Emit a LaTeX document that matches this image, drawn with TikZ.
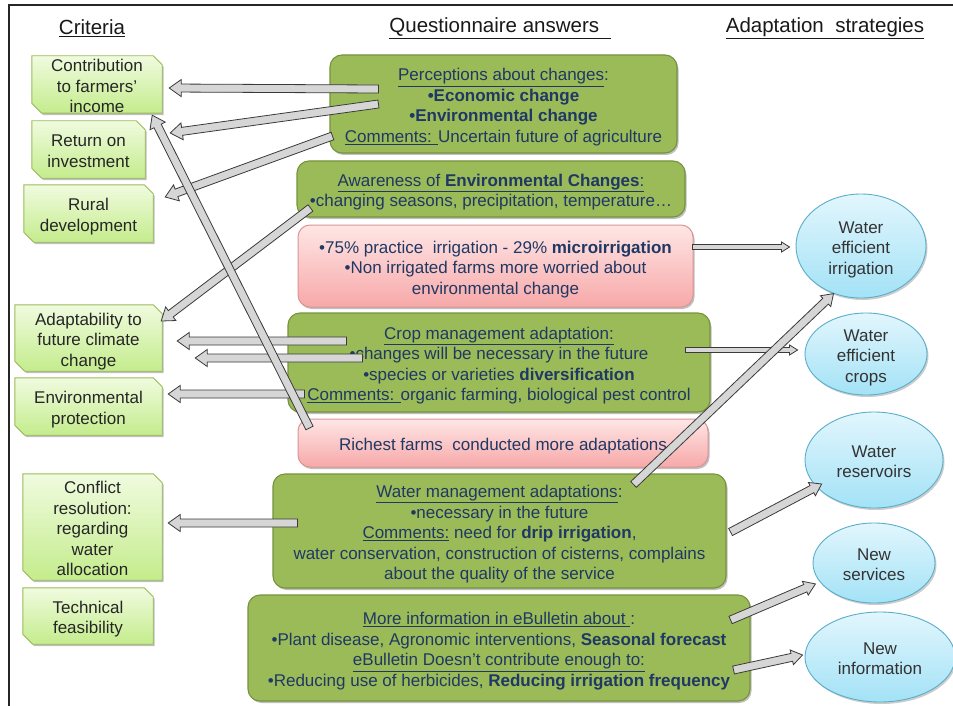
\documentclass[tikz,border=0pt]{standalone}
\usepackage{fontspec}
\setmainfont{Liberation Sans}
\usetikzlibrary{calc,shadows,shapes.geometric}
\pgfdeclarelayer{background}
\pgfsetlayers{background,main}
\definecolor{navy}{HTML}{1F3864}
\definecolor{grn}{HTML}{9BBB59}
\definecolor{grnb}{HTML}{76923C}
\definecolor{critTop}{HTML}{F0FBDF}
\definecolor{critBot}{HTML}{C4EC8C}
\definecolor{critB}{HTML}{9BBB59}
\definecolor{pinkTop}{HTML}{FFE6E6}
\definecolor{pinkBot}{HTML}{F7A8A8}
\definecolor{pinkB}{HTML}{D99694}
\definecolor{bluTop}{HTML}{E2F6FD}
\definecolor{bluBot}{HTML}{A3E2F6}
\definecolor{bluB}{HTML}{5AAECB}
\definecolor{arrF}{HTML}{D6D6D6}
\definecolor{arrB}{HTML}{3A3A3A}
\newcommand\critpoly[1]{\path[critshape] (#1.north west) -- ([xshift=-9pt]#1.north east) -- ([yshift=-9pt]#1.north east) -- (#1.south east) -- ([xshift=10pt]#1.south west) -- ([yshift=10pt]#1.south west) -- cycle;}
% tail, tip, half shaft, half head, head length
\newcommand\barrow[5]{\draw[arrowbody] let \p1=(#1), \p2=(#2), \n1={atan2(\y2-\y1,\x2-\x1)}, \n2={veclen(\x2-\x1,\y2-\y1)}, \n3={\n2-#5} in [shift={(\p1)}, rotate=\n1] (0,#3) -- (\n3,#3) -- (\n3,#4) -- (\n2,0) -- (\n3,-#4) -- (\n3,-#3) -- (0,-#3) -- cycle;}
% centred multi-line text, lowered a little below the node centre
\newcommand\ml[1]{\smash{\begin{tabular}{@{}c@{}}#1\end{tabular}}\rule{0pt}{15.5pt}}
\begin{document}
\begin{tikzpicture}[x=1pt,y=-1pt,
  txt/.style={font=\fontsize{17}{20.5}\selectfont, text=navy, inner sep=0pt},
  gbox/.style={txt, rounded corners=12pt, fill=grn, draw=grnb, line width=1.1pt,
     drop shadow={shadow xshift=1.5pt, shadow yshift=-2pt, opacity=.25, fill=black}},
  pbox/.style={txt, rounded corners=12pt, top color=pinkTop, bottom color=pinkBot, draw=pinkB, line width=1pt,
     drop shadow={shadow xshift=1.5pt, shadow yshift=-2pt, opacity=.25, fill=black}},
  crit/.style={font=\fontsize{17}{20.5}\selectfont, text=black!85, inner sep=0pt},
  critshape/.style={draw=critB, line width=0.9pt, top color=critTop, bottom color=critBot,
     drop shadow={shadow xshift=1.5pt, shadow yshift=-2pt, opacity=.25, fill=black}},
  strat/.style={ellipse, inner sep=0pt, font=\fontsize{17}{20.5}\selectfont, text=black!80,
     top color=bluTop, bottom color=bluBot, draw=bluB, line width=0.9pt,
     drop shadow={shadow xshift=1.5pt, shadow yshift=-2pt, opacity=.2, fill=black}},
  head/.style={font=\fontsize{20.5}{24}\selectfont, text=black!90, inner sep=0pt},
  arrowbody/.style={draw=arrB, fill=arrF, line width=0.8pt, line join=miter}
]
\useasboundingbox (0,0) rectangle (953,706);
\begin{pgfonlayer}{background}
\fill[white] (0,0) rectangle (953,706);
\end{pgfonlayer}
\draw[line width=1.5pt, black!85] (9,706) -- (9,5) -- (953,5);

% headings
\node[head] (hcrit) at (92,28.5) {\underline{Criteria}};
\node[head] (hques) at (500,28.5) {\underline{Questionnaire answers\ \ }};
\node[head] (hstrat) at (825,28.5) {\underline{Adaptation\ \ strategies}};

% questionnaire boxes
\node[gbox, minimum width=347pt, minimum height=98pt] (perc) at (503.5,104)
  {\ml{\underline{Perceptions about changes}:\\ \textbf{•Economic change}\\ \textbf{•Environmental change}\\ \underline{Comments: }Uncertain future of agriculture}};
\node[gbox, minimum width=388pt, minimum height=56pt] (aware) at (491,189)
  {\ml{\underline{Awareness of \textbf{Environmental Changes}:}\\ •changing seasons, precipitation, temperature…}};
\node[pbox, minimum width=395pt, minimum height=82pt] (pink1) at (495.5,266)
  {\ml{•75\% practice\ \ irrigation - 29\% \textbf{microirrigation}\\ •Non irrigated farms more worried about\\ environmental change}};
\node[gbox, minimum width=422pt, minimum height=99pt] (crop) at (499,362.5)
  {\ml{\underline{Crop management adaptation:}\\ •changes will be necessary in the future\\ •species or varieties \textbf{diversification}\\ \underline{Comments: }organic farming, biological pest control}};
\node[pbox, minimum width=410pt, minimum height=48pt] (rich) at (503,443)
  {\ml{Richest farms\ \ conducted more adaptations}};
\node[gbox, minimum width=453pt, minimum height=114pt] (water) at (499.5,531)
  {\ml{\underline{Water management adaptations}:\\ •necessary in the future\\ \underline{Comments:} need for \textbf{drip irrigation},\\ water conservation, construction of cisterns, complains\\ about the quality of the service}};
\node[gbox, minimum width=502pt, minimum height=106pt] (more) at (499,648)
  {\ml{\underline{More information in eBulletin about }:\\ •Plant disease, Agronomic interventions, \textbf{Seasonal forecast}\\ \underline{eBulletin Doesn’t contribute enough to:}\\ •Reducing use of herbicides, \textbf{Reducing irrigation frequency}}};

% criteria
\node[crit, minimum width=130pt, minimum height=57pt] (c1) at (97,84.5) {\ml{Contribution\\to farmers’\\income}};
\node[crit, minimum width=113pt, minimum height=57pt] (c2) at (88.5,149.5) {\ml{Return on\\investment}};
\node[crit, minimum width=129pt, minimum height=57pt] (c3) at (88.5,213.5) {\ml{Rural\\development}};
\node[crit, minimum width=147pt, minimum height=66pt] (c4) at (88.5,338) {\ml{Adaptability to\\future climate\\change}};
\node[crit, minimum width=147pt, minimum height=57pt] (c5) at (88.5,406.5) {\ml{Environmental\\protection}};
\node[crit, minimum width=139pt, minimum height=106pt] (c6) at (92.5,527) {\ml{Conflict\\resolution:\\regarding\\water\\allocation}};
\node[crit, minimum width=130pt, minimum height=56pt] (c7) at (88,616) {\ml{Technical\\feasibility}};
\begin{pgfonlayer}{background}
\critpoly{c1}\critpoly{c2}\critpoly{c3}\critpoly{c4}\critpoly{c5}\critpoly{c6}\critpoly{c7}
\end{pgfonlayer}

% strategies
\node[strat, minimum width=130pt, minimum height=104pt] (e1) at (861,246) {\ml{Water\\efficient\\irrigation}};
\node[strat, minimum width=122pt, minimum height=82pt] (e2) at (866,354) {\ml{Water\\efficient\\crops}};
\node[strat, minimum width=138pt, minimum height=96pt] (e3) at (874,460) {\ml{Water\\reservoirs}};
\node[strat, minimum width=122pt, minimum height=80pt] (e4) at (874,563) {\ml{New\\services}};
\node[strat, minimum width=150pt, minimum height=90pt] (e5) at (880,657) {\ml{New\\information}};

% arrows to criteria
\barrow{[shift={(59,-21.5)}]crop.west}{[shift={(15,3)}]c4.east}{4}{8.5}{12}
\barrow{[shift={(75,-4.5)}]crop.west}{[shift={(33,20)}]c4.east}{4}{8.5}{12}
\barrow{[shift={(17,31.5)}]crop.west}{[shift={(6,-12.5)}]c5.east}{4}{8.5}{12}
\barrow{[shift={(49,-15)}]perc.west}{[shift={(7,3.5)}]c1.east}{4}{8.5}{12}
\barrow{[shift={(49,0)}]perc.west}{[shift={(25,-16.5)}]c2.east}{4}{8.5}{12}
\barrow{[shift={(3,32)}]perc.west}{[shift={(12,-16.5)}]c3.east}{4}{8.5}{12}
\barrow{[shift={(14,19)}]aware.west}{[shift={(-1,-17)}]c4.east}{4}{8.5}{12}
\barrow{[shift={(12,-15)}]rich.west}{[shift={(-10,2)}]c1.south east}{4}{8.5}{12}
\barrow{[shift={(25,-8)}]water.west}{[shift={(6,-4)}]c6.east}{4}{8.5}{12}

% arrows to strategies
\barrow{[shift={(-1,-19)}]pink1.east}{[shift={(-6,1)}]e1.west}{2.5}{5}{8}
\barrow{[shift={(-25,-12.5)}]crop.east}{[shift={(-7,-4)}]e2.west}{2.5}{5}{8}
\barrow{[shift={(-93,11)}]water.north east}{e1.240}{4}{7.5}{11}
\barrow{[shift={(4,1)}]water.east}{[shift={(5.5,-3)}]e3.205}{4}{7.5}{11}
\barrow{[shift={(-20,-28)}]more.east}{[shift={(-4.7,1.3)}]e4.200}{4}{7.5}{11}
\barrow{[shift={(-17,22)}]more.east}{[shift={(-2,-2)}]e5.west}{4}{7.5}{11}
\end{tikzpicture}
\end{document}
